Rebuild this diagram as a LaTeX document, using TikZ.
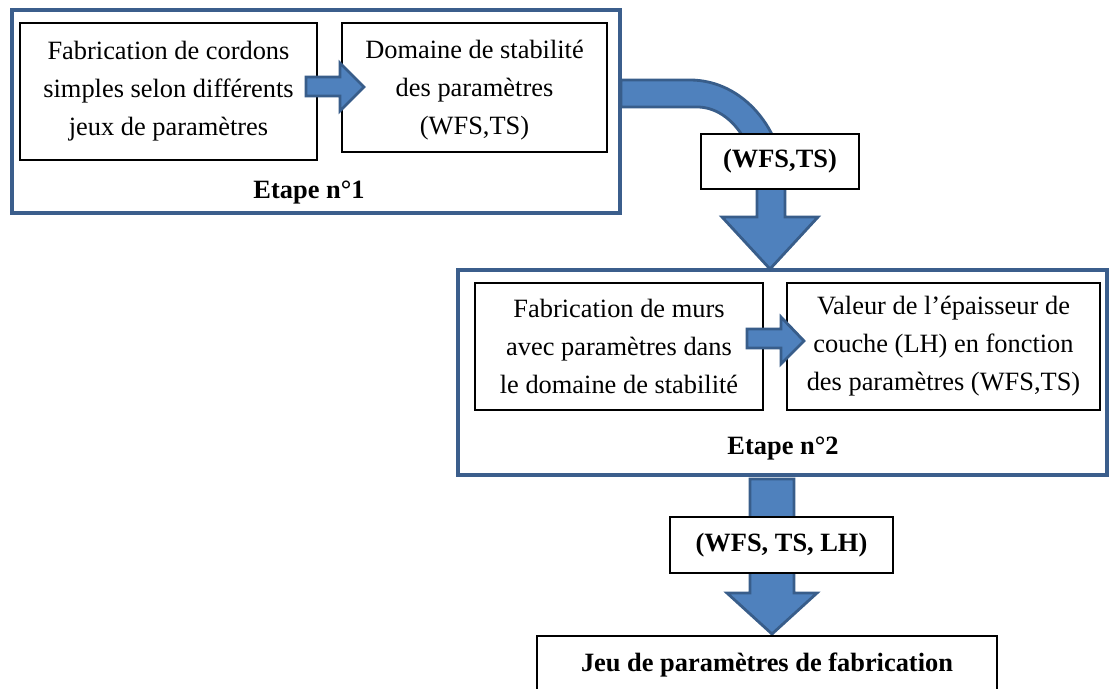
\documentclass[tikz,border=0pt]{standalone}
\usepackage{fontspec}
\setmainfont{Liberation Serif}
\definecolor{arrowfill}{HTML}{4F81BD}
\definecolor{arrowline}{HTML}{385D8A}
\definecolor{stageline}{HTML}{3B5E8C}
\begin{document}
\begin{tikzpicture}[x=1pt,y=-1pt,
  stage/.style={draw=stageline,line width=4.5pt,fill=white},
  stepbox/.style={draw=black,line width=1.4pt,fill=white,align=center,inner sep=0pt,
    font=\fontsize{26.4}{38}\selectfont},
  steptext/.style={align=center,inner sep=0pt,font=\fontsize{26.4}{38}\selectfont},
  tagbox/.style={draw=black,line width=1.4pt,fill=white,align=center,inner sep=0pt,
    font=\fontsize{26.4}{32}\selectfont\bfseries},
  stagelabel/.style={inner sep=0pt,font=\fontsize{26.4}{32}\selectfont\bfseries},
  blockarrow/.style={fill=arrowfill,draw=arrowline,line width=2.8pt,line join=miter}]
\useasboundingbox (0,0) rectangle (1110,688);

% Etape 1
\draw[stage] (12,10) rectangle (620,213);
\node[stepbox,minimum width=297pt,minimum height=137pt] (a) at (168.5,91.5)
  {Fabrication de cordons\\simples selon différents\\jeux de paramètres};
\node[stepbox,minimum width=265pt,minimum height=129pt] (b) at (474.5,87.5) {};
\node[steptext] (bt) at (474.5,90) {Domaine de stabilité\\des paramètres\\(WFS,TS)};
\node[stagelabel] (e1) at (309,193) {Etape n°1};
\draw[blockarrow] (306,77) -- (340,77) -- (340,63) -- (364,87) -- (340,111) -- (340,96) -- (306,96) -- cycle;

% Etape 2
\draw[stage] (458,270) rectangle (1107,475);
\node[stepbox,minimum width=288pt,minimum height=127pt] (c) at (619,346.5)
  {Fabrication de murs\\avec paramètres dans\\le domaine de stabilité};
\node[stepbox,minimum width=313pt,minimum height=127pt] (d) at (943.5,346.5)
  {Valeur de l’épaisseur de\\couche (LH) en fonction\\des paramètres (WFS,TS)};
\node[stagelabel] (e2) at (783,449) {Etape n°2};
\draw[blockarrow] (747,329) -- (781,329) -- (781,317) -- (804,341) -- (781,364) -- (781,348) -- (747,348) -- cycle;

% curved arrow from stage 1 to stage 2
\draw[blockarrow] (621,80) -- (690,80) .. controls (742.5,80) and (785,129.3) .. (785,190)
  -- (785,217) -- (818,217) -- (770,269) -- (722,217) -- (757,217) -- (757,190)
  .. controls (757,144) and (730,107) .. (697,107) -- (621,107) -- cycle;
\node[tagbox,minimum width=158pt,minimum height=55pt] (t1) at (780,161.5) {(WFS,TS)};

% arrow from stage 2 to final
\draw[blockarrow] (750,479) -- (794,479) -- (794,593) -- (817,593) -- (772,634) -- (727,593) -- (750,593) -- cycle;
\node[tagbox,minimum width=223pt,minimum height=56pt] (t2) at (781.5,545) {(WFS, TS, LH)};

% final box
\draw[draw=black,line width=1.4pt,fill=white] (537,636) rectangle (997,700);
\node[stagelabel] (f) at (767,665) {Jeu de paramètres de fabrication};
\end{tikzpicture}
\end{document}
